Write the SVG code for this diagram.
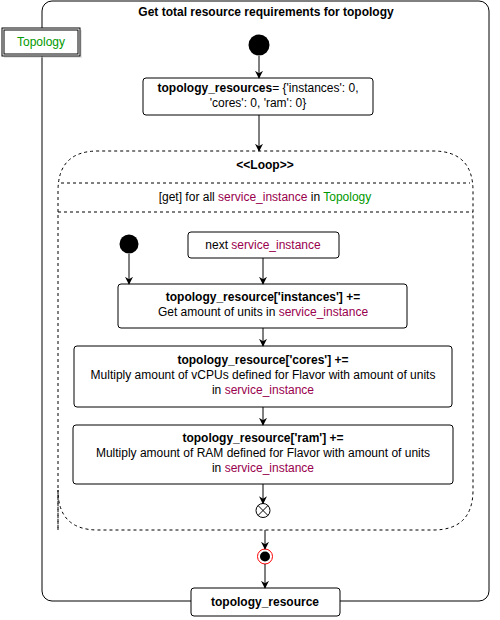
<svg xmlns="http://www.w3.org/2000/svg" width="500" height="620" viewBox="0 0 500 620">
<style>
text{font-family:"Liberation Sans",Arial,sans-serif;font-size:12px;fill:#000;text-anchor:middle}
.b{font-weight:bold}
.p{fill:#99004D}
.g{fill:#009900}
.box{fill:#fff;stroke:#000;stroke-width:1}
.dash{fill:none;stroke:#000;stroke-width:1;stroke-dasharray:3 3}
.c{stroke:#000;stroke-width:1;fill:none;marker-end:url(#arr)}
</style>
<defs>
<marker id="arr" viewBox="0 0 10 10" refX="9" refY="5" markerWidth="8" markerHeight="8" markerUnits="userSpaceOnUse" orient="auto">
<path d="M0,0 L10,5 L0,10 L3,5 Z" fill="#000"/>
</marker>
</defs>
<rect width="500" height="620" fill="#fff"/>
<g id="frame">
<rect x="42" y="1" width="447" height="600" rx="10" class="box"/>
<text x="266" y="16" class="b">Get total resource requirements for topology</text>
</g>
<g id="topology">
<rect x="4" y="30" width="78" height="28" fill="#ccc" opacity="0.5"/>
<rect x="2" y="28" width="78" height="28" class="box"/>
<rect x="4" y="30" width="74" height="24" fill="none" stroke="#000"/>
<text x="41" y="46" class="g">Topology</text>
</g>
<g id="start"><circle cx="259" cy="45" r="10.5" fill="#000"/></g>
<g id="init">
<rect x="143" y="78" width="230" height="37" rx="3" class="box"/>
<text x="258" y="92"><tspan class="b">topology_resources</tspan>= {'instances': 0,</text>
<text x="258" y="107">'cores': 0, 'ram': 0}</text>
</g>
<g id="loop">
<path d="M58,530 L58,191 Q58,151 98,151 L433,151 Q473,151 473,191 L473,490 Q473,530 433,530 L98,530 Q58,530 58,490 Z" class="dash"/>
<line x1="61" y1="183" x2="470" y2="183" class="dash"/>
<line x1="58" y1="212" x2="473" y2="212" class="dash"/>
<text x="265" y="169" class="b">&lt;&lt;Loop&gt;&gt;</text>
<text x="265" y="201">[get] for all <tspan class="p">service_instance</tspan> in <tspan class="g">Topology</tspan></text>
</g>
<g id="inner-start"><circle cx="129" cy="244" r="9.5" fill="#000"/></g>
<g id="next">
<rect x="188" y="232" width="151" height="26" rx="3" class="box"/>
<text x="263" y="249">next <tspan class="p">service_instance</tspan></text>
</g>
<g id="instances">
<rect x="118" y="284" width="289" height="44" rx="3" class="box"/>
<text x="263" y="301" class="b">topology_resource['instances'] +=</text>
<text x="263" y="316">Get amount of units in <tspan class="p">service_instance</tspan></text>
</g>
<g id="cores">
<rect x="74" y="346" width="378" height="61" rx="3" class="box"/>
<text x="263" y="364" class="b">topology_resource['cores'] +=</text>
<text x="263" y="379">Multiply amount of vCPUs defined for Flavor with amount of units</text>
<text x="263" y="394">in <tspan class="p">service_instance</tspan></text>
</g>
<g id="ram">
<rect x="73" y="425" width="380" height="59" rx="3" class="box"/>
<text x="263" y="442" class="b">topology_resource['ram'] +=</text>
<text x="263" y="457">Multiply amount of RAM defined for Flavor with amount of units</text>
<text x="263" y="472">in <tspan class="p">service_instance</tspan></text>
</g>
<g id="loop-end">
<circle cx="263" cy="510.5" r="7" class="box"/>
<path d="M258,505.5 L268,515.5 M268,505.5 L258,515.5" stroke="#000"/>
</g>
<g id="final">
<circle cx="265" cy="556.5" r="7.5" fill="#fff" stroke="#f00" stroke-width="1"/>
<circle cx="265" cy="556.5" r="5" fill="#000"/>
</g>
<g id="output">
<rect x="191" y="588" width="149" height="28" rx="3" class="box"/>
<text x="265" y="606" class="b">topology_resource</text>
</g>
<g id="connectors">
<line x1="259" y1="56" x2="259" y2="78" class="c"/>
<line x1="259" y1="115" x2="259" y2="151" class="c"/>
<line x1="129" y1="254" x2="129" y2="284" class="c"/>
<line x1="263" y1="258" x2="263" y2="284" class="c"/>
<line x1="263" y1="328" x2="263" y2="346" class="c"/>
<line x1="263" y1="407" x2="263" y2="425" class="c"/>
<line x1="263" y1="484" x2="263" y2="503.5" class="c"/>
<line x1="265" y1="530" x2="265" y2="549" class="c"/>
<line x1="265" y1="564" x2="265" y2="588" class="c"/>
</g>
</svg>
